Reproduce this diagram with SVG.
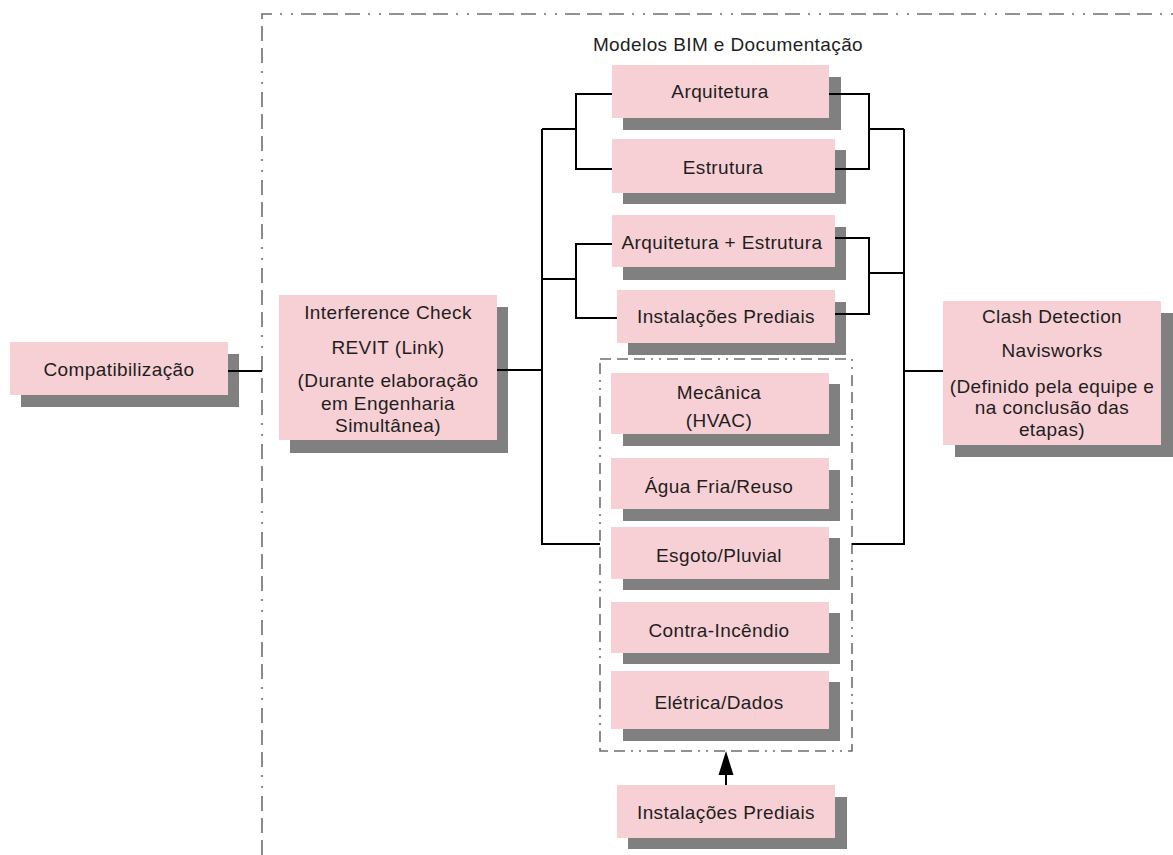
<svg xmlns="http://www.w3.org/2000/svg" width="1173" height="855" viewBox="0 0 1173 855">
<style>
.box{fill:#F7D0D5}
.sh{fill:#808080}
.t{font-family:"Liberation Sans",Arial,sans-serif;font-size:19px;letter-spacing:0.4px;fill:#1e1e1e;text-anchor:middle}
.c{fill:none;stroke:#000;stroke-width:2}
.outer{fill:none;stroke:#6e6e6e;stroke-width:1.6;stroke-dasharray:15,7,15,7,15,8,2,9,2,8}
.inner{fill:none;stroke:#6e6e6e;stroke-width:1.6;stroke-dasharray:11,6,11,6,11,6,2,6,2,6}
.ah{fill:#000}
</style>
<rect width="1173" height="855" fill="#fff"/>
<g id="boundary">
<path class="outer" d="M262,855 L262,14 L1173,14"/>
<text class="t" x="728" y="51">Modelos BIM e Documentação</text>
</g>
<g id="group-instalacoes">
<rect class="inner" x="600" y="359" width="252" height="392"/>
</g>
<g id="n-compat">
<rect class="sh" x="21" y="354" width="218" height="53"/>
<rect class="box" x="10" y="342" width="218" height="53"/>
<text class="t" x="119" y="376">Compatibilização</text>
</g>
<g id="n-interference">
<rect class="sh" x="290" y="307" width="218" height="146"/>
<rect class="box" x="279" y="295" width="218" height="145"/>
<text class="t" x="388" y="319">Interference Check</text>
<text class="t" x="388" y="354">REVIT (Link)</text>
<text class="t" x="388" y="387">(Durante elaboração</text>
<text class="t" x="388" y="410">em Engenharia</text>
<text class="t" x="388" y="432">Simultânea)</text>
</g>
<g id="n-arq">
<rect class="sh" x="623" y="77" width="218" height="53"/>
<rect class="box" x="612" y="65" width="217" height="53"/>
<text class="t" x="720" y="98">Arquitetura</text>
</g>
<g id="n-est">
<rect class="sh" x="623" y="150" width="223" height="54"/>
<rect class="box" x="612" y="139" width="223" height="54"/>
<text class="t" x="723" y="174">Estrutura</text>
</g>
<g id="n-arqest">
<rect class="sh" x="623" y="227" width="223" height="53"/>
<rect class="box" x="612" y="215" width="223" height="52"/>
<text class="t" x="722" y="249">Arquitetura + Estrutura</text>
</g>
<g id="n-inst">
<rect class="sh" x="628" y="302" width="218" height="53"/>
<rect class="box" x="617" y="290" width="218" height="53"/>
<text class="t" x="726" y="323">Instalações Prediais</text>
</g>
<g id="n-mec">
<rect class="sh" x="623" y="384" width="217" height="62"/>
<rect class="box" x="611" y="373" width="218" height="61"/>
<text class="t" x="719" y="399">Mecânica</text>
<text class="t" x="719" y="427">(HVAC)</text>
</g>
<g id="n-agua">
<rect class="sh" x="623" y="470" width="217" height="51"/>
<rect class="box" x="611" y="458" width="218" height="51"/>
<text class="t" x="719" y="493">Água Fria/Reuso</text>
</g>
<g id="n-esgoto">
<rect class="sh" x="623" y="538" width="217" height="52"/>
<rect class="box" x="611" y="527" width="218" height="52"/>
<text class="t" x="719" y="562">Esgoto/Pluvial</text>
</g>
<g id="n-contra">
<rect class="sh" x="623" y="613" width="217" height="51"/>
<rect class="box" x="611" y="602" width="218" height="51"/>
<text class="t" x="719" y="637">Contra-Incêndio</text>
</g>
<g id="n-eletrica">
<rect class="sh" x="623" y="682" width="217" height="59"/>
<rect class="box" x="611" y="671" width="218" height="58"/>
<text class="t" x="719" y="709">Elétrica/Dados</text>
</g>
<g id="n-inst2">
<rect class="sh" x="628" y="797" width="219" height="52"/>
<rect class="box" x="617" y="785" width="218" height="53"/>
<text class="t" x="726" y="819">Instalações Prediais</text>
</g>
<g id="n-clash">
<rect class="sh" x="955" y="313" width="218" height="144"/>
<rect class="box" x="943" y="301" width="218" height="144"/>
<text class="t" x="1052" y="323">Clash Detection</text>
<text class="t" x="1052" y="357">Navisworks</text>
<text class="t" x="1052" y="393">(Definido pela equipe e</text>
<text class="t" x="1052" y="414">na conclusão das</text>
<text class="t" x="1052" y="436">etapas)</text>
</g>
<g id="connectors">
<path class="c" d="M228,371 H262"/>
<path class="c" d="M497,370 H542"/>
<path class="c" d="M612,94 H576 V169 H612 M576,129 H542"/>
<path class="c" d="M612,244 H576 V318 H617 M576,279 H542"/>
<path class="c" d="M542,129 V544 H600"/>
<path class="c" d="M829,94 H869 V169 H835 M869,129 H904"/>
<path class="c" d="M835,238 H869 V314 H835 M869,273 H904"/>
<path class="c" d="M904,129 V544 H852"/>
<path class="c" d="M904,371 H943"/>
<path class="c" d="M726,785 V772"/>
<polygon class="ah" points="726,751 718.5,775 733.5,775"/>
</g>
</svg>
